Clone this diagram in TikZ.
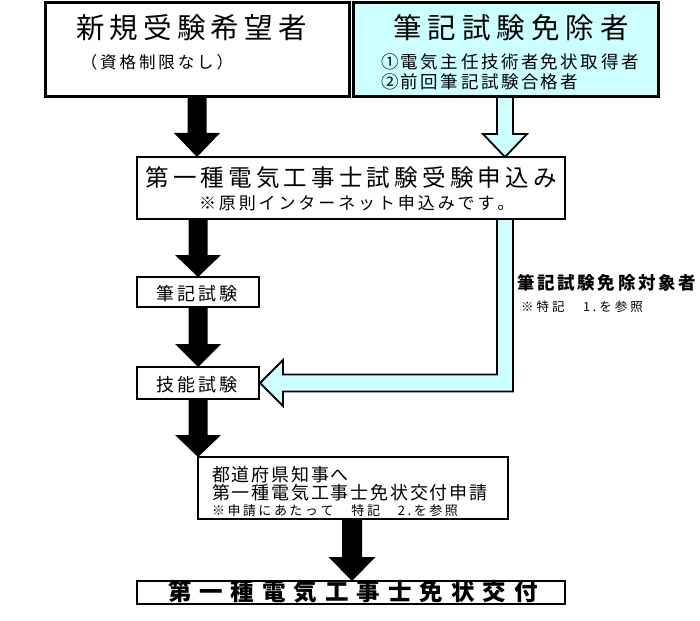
\documentclass[tikz,border=0pt]{standalone}
\usepackage{fontspec}
\setmainfont{Noto Sans CJK JP}
\usetikzlibrary{calc}
\definecolor{lcyan}{RGB}{204,255,255}
\makeatletter
\def\sp@end{\sp@end@}
\newcommand\sptext[2]{\def\sp@gap{\kern#1}\sp@loop#2\sp@end\unkern}
\def\sp@loop#1{\ifx#1\sp@end\else#1\sp@gap\expandafter\sp@loop\fi}
\makeatother
\newcommand\bigdown[6]{%
  \path[#1] let \p1=(#2), \p2=(#3) in
    (\x2-#4,\y1) -- (\x2-#4,\y2+#6) -- (\x2-#5,\y2+#6) -- (\x2,\y2)
    -- (\x2+#5,\y2+#6) -- (\x2+#4,\y2+#6) -- (\x2+#4,\y1) -- cycle;}
\tikzset{
  box/.style={draw=black, fill=white, rectangle, inner sep=0pt, outer sep=0pt},
  txt/.style={inner sep=0pt, outer sep=0pt, text=black},
  blackarrow/.style={fill=black},
  cyanarrow/.style={fill=lcyan, draw=black, line width=1.8pt, line join=miter},
}
\begin{document}
\begin{tikzpicture}[x=1pt,y=-1pt]
\useasboundingbox[fill=white] (0,0) rectangle (700,620);
\coordinate (c197) at (197,0);
\coordinate (c198) at (198,0);
\coordinate (c352) at (352,0);
\coordinate (c505) at (505,0);

% boxes (the L-shaped arrow goes first, behind)
\node[box, line width=2.2pt, minimum width=122, minimum height=32] (ginou) at (198,383) {};
\path[cyanarrow] let \p2=(c505), \p3=(ginou.east) in
  (\x2-8pt,-217pt) -- (\x2-8pt,\y3+8.5pt) -- (\x3+24pt,\y3+8.5pt) -- (\x3+24pt,\y3+23pt)
  -- (\x3+1pt,\y3) -- (\x3+24pt,\y3-23pt) -- (\x3+24pt,\y3-8.5pt) -- (\x2+8pt,\y3-8.5pt)
  -- (\x2+8pt,-217pt) -- cycle;

\node[box, line width=3pt, minimum width=304, minimum height=94] (b1) at (197,50) {};
\node[box, line width=3pt, fill=lcyan, minimum width=305, minimum height=94] (b2) at (505.5,50) {};
\node[box, line width=2.5pt, minimum width=428, minimum height=62] (b3) at (351,188) {};
\node[box, line width=2.2pt, minimum width=122, minimum height=30] (hikki) at (198,292) {};
\node[box, line width=2.2pt, minimum width=310, minimum height=62] (b4) at (353,488) {};
\node[box, line width=2.2pt, minimum width=428, minimum height=23] (fin) at (351,592.5) {};

% texts
\node[txt, font=\fontsize{28.5}{30}\selectfont] (t1) at (191.5,28) {\sptext{5.2pt}{新規受験希望者}};
\node[txt, font=\fontsize{16.5}{18}\selectfont] (t1s) at (157,62) {\sptext{2.9pt}{（資格制限なし）}};
\node[txt, font=\fontsize{28.5}{30}\selectfont] (t2) at (511,28) {\sptext{6pt}{筆記試験免除者}};
\node[txt, anchor=west, font=\fontsize{17.5}{19}\selectfont] (t2a) at (381,62) {\sptext{2.5pt}{①電気主任技術者免状取得者}};
\node[txt, anchor=west, font=\fontsize{17.5}{19}\selectfont] (t2b) at (381,82) {\sptext{2.5pt}{②前回筆記試験合格者}};
\node[txt, font=\fontsize{23.5}{25}\selectfont] (t3) at (351,178) {\sptext{4.2pt}{第一種電気工事士試験受験申込み}};
\node[txt, anchor=west, font=\fontsize{17}{18}\selectfont] (t3s) at (199,203) {\sptext{2.9pt}{※原則インターネット申込みです。}};
\node[txt, font=\fontsize{18}{19}\selectfont] (th) at (197,294) {\sptext{3pt}{筆記試験}};
\node[txt, font=\fontsize{18}{19}\selectfont] (tg) at (197,385) {\sptext{3pt}{技能試験}};
\node[txt, anchor=west, font=\fontsize{18}{20}\selectfont] (t4a) at (212,475) {\sptext{1.8pt}{都道府県知事へ}};
\node[txt, anchor=west, font=\fontsize{18}{20}\selectfont] (t4b) at (212,493) {\sptext{1.8pt}{第一種電気工事士免状交付申請}};
\node[txt, anchor=west, font=\fontsize{13}{14}\selectfont] (t4c) at (212,511) {\sptext{2.5pt}{※申請にあたって　特記　2.を参照}};
\node[txt, font=\bfseries\fontsize{23.5}{25}\selectfont] (tf) at (353,592) {\sptext{8pt}{第一種電気工事士免状交付}};
\node[txt, anchor=west, font=\bfseries\fontsize{17.5}{19}\selectfont] (tx) at (517,283) {\sptext{2.7pt}{筆記試験免除対象者}};
\node[txt, anchor=west, font=\fontsize{12.5}{14}\selectfont] (txs) at (521,307) {\sptext{3pt}{※特記　1.を参照}};

% arrows
\bigdown{blackarrow}{b1.south -| c197}{b3.north -| c197}{9.5pt}{23pt}{24pt}
\bigdown{cyanarrow}{b2.south -| c505}{b3.north -| c505}{8pt}{22pt}{23pt}
\bigdown{blackarrow}{b3.south -| c198}{hikki.north -| c198}{9.5pt}{23pt}{22pt}
\bigdown{blackarrow}{hikki.south -| c198}{ginou.north -| c198}{9.5pt}{23pt}{23pt}
\bigdown{blackarrow}{ginou.south -| c198}{b4.north -| c198}{9.5pt}{23pt}{22pt}
\bigdown{blackarrow}{b4.south -| c352}{fin.north -| c352}{10pt}{23.5pt}{24pt}
\end{tikzpicture}
\end{document}
